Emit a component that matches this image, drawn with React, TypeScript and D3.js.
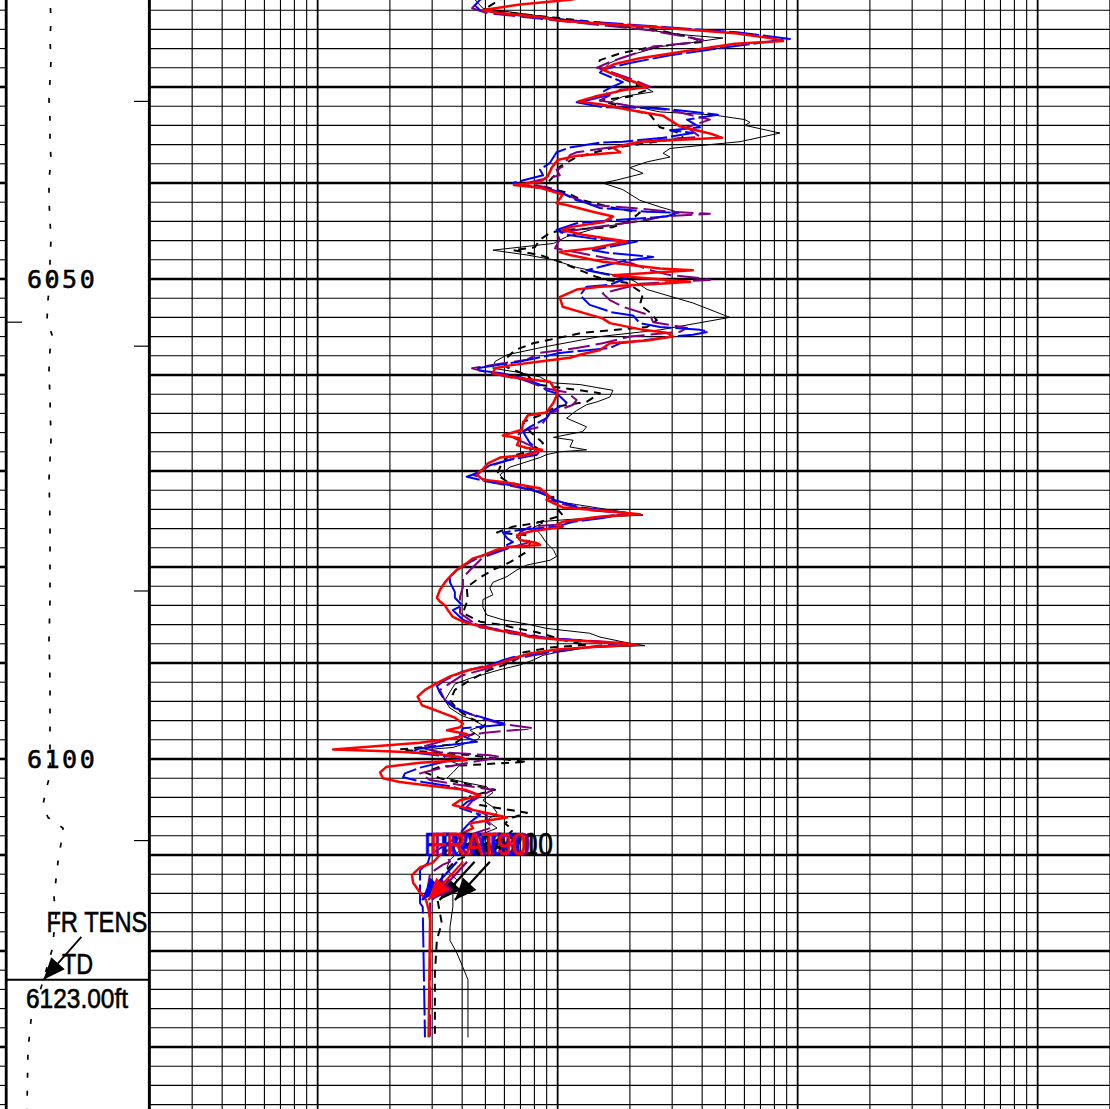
import React from 'react';
import * as d3 from 'd3';

const W = 1110;
const H = 1109;
const depthTop = 6020.94;
const depthBottom = 6136.46;
const depthLabels = [6050, 6100];
const tdDepth = 6123;
const tdText = '6123.00ft';
const rightMarkDepths = [6031.5, 6057.0, 6082.5, 6108.5];
const leftMarkDepths = [6054.5];
const resistivityDomain = [0.2, 2000];
const tensionDomain = [0, 10000];
const labelDepth = 6110.0;
const arrowStartDepth = 6110.7;
const arrowTipDepth = 6114.7;

type P = [number, number];

const TENS: P[] = [[6019.9,3050],[6020.9,3050],[6023.0,3120],[6025.1,3050],[6027.2,3120],[6029.3,3050],[6031.4,2979],[6033.4,3050],[6035.5,3050],[6037.6,3120],[6039.7,2979],[6041.8,2979],[6043.9,3050],[6045.9,3120],[6048.0,3050],[6050.1,3050],[6052.2,2908],[6054.3,2837],[6055.8,3191],[6057.4,3050],[6059.5,2979],[6062.6,3050],[6066.8,3120],[6070.9,2979],[6075.1,3050],[6079.3,3050],[6083.4,3050],[6087.6,2979],[6091.8,3050],[6095.9,3050],[6100.1,3050],[6101.7,3050],[6103.2,2766],[6104.8,2553],[6106.1,2908],[6107.2,3972],[6108.8,3830],[6110.7,3617],[6114.4,3333],[6116.3,3475],[6119.9,3191],[6123.5,2482],[6127.2,1702],[6130.3,1489],[6136.5,1418],[6137.6,1418]];

const AT90: P[] = [[6019.9,15.0],[6020.9,11.5],[6021.4,6.97],[6022.0,4.84],[6022.3,5.75],[6022.7,8.44],[6023.1,10.2],[6023.8,26.7],[6024.4,54.8],[6024.9,76.7],[6025.2,87.0],[6025.5,54.8],[6026.2,35.6],[6027.0,22.0],[6027.6,17.3],[6028.2,15.4],[6028.6,16.8],[6029.3,20.0],[6030.0,23.6],[6030.3,19.1],[6031.0,14.3],[6031.5,12.2],[6031.8,15.0],[6032.4,20.0],[6033.0,27.5],[6034.1,32.3],[6034.9,43.9],[6035.3,48.4],[6035.7,22.0],[6036.3,17.0],[6036.8,18.2],[6037.2,11.8],[6037.6,10.0],[6038.4,9.45],[6039.3,9.1],[6039.9,8.44],[6040.2,6.57],[6040.5,8.44],[6041.2,10.5],[6042.1,9.9],[6042.3,10.9],[6043.0,14.0],[6043.5,17.0],[6044.1,15.4],[6044.6,11.25],[6044.9,10.5],[6045.4,12.7],[6046.1,19.4],[6046.8,14.0],[6047.2,10.2],[6047.5,11.25],[6048.2,15.4],[6048.9,26.7],[6049.1,36.6],[6049.3,26.7],[6049.6,17.0],[6049.9,22.7],[6050.3,35.6],[6050.5,26.7],[6050.8,15.0],[6051.1,12.0],[6051.9,10.2],[6052.9,10.5],[6053.5,12.7],[6054.1,15.4],[6054.6,16.5],[6055.3,22.7],[6055.6,28.5],[6056.0,30.2],[6056.4,23.6],[6056.7,16.5],[6057.4,15.0],[6057.9,12.4],[6058.2,11.25],[6058.6,8.44],[6059.0,6.33],[6059.3,5.48],[6059.8,5.37],[6060.2,6.33],[6060.7,9.29],[6061.3,9.6],[6061.9,10.0],[6062.9,9.6],[6063.9,8.98],[6064.2,7.52],[6065.0,7.17],[6065.7,7.10],[6066.3,5.91],[6066.6,6.97],[6067.3,6.77],[6067.6,7.45],[6067.8,8.60],[6068.3,7.67],[6068.6,5.75],[6069.2,5.12],[6069.9,4.84],[6070.4,4.61],[6070.9,4.88],[6071.2,6.15],[6071.8,8.44],[6072.7,9.29],[6073.0,8.98],[6073.8,10.5],[6074.1,14.6],[6074.5,22.0],[6074.8,14.6],[6075.3,10.5],[6075.6,9.9],[6075.8,10.5],[6076.3,7.67],[6076.7,6.77],[6077.2,6.97],[6077.5,8.2],[6077.7,8.44],[6077.9,6.33],[6078.2,5.59],[6078.8,4.88],[6079.1,4.44],[6079.6,4.18],[6080.3,3.80],[6081.0,3.56],[6081.6,3.39],[6082.4,3.23],[6083.2,3.14],[6083.6,3.23],[6084.0,3.39],[6084.5,3.49],[6085.2,3.66],[6085.7,4.03],[6086.0,4.44],[6086.6,5.59],[6086.9,6.77],[6087.3,7.67],[6087.6,10.5],[6087.9,17.6],[6088.1,21.3],[6088.3,14.6],[6088.6,9.9],[6089.0,7.67],[6089.4,6.77],[6089.7,6.2],[6090.2,5.48],[6090.7,4.31],[6091.4,3.56],[6092.1,3.14],[6092.8,2.80],[6093.5,2.61],[6094.4,2.72],[6095.1,3.23],[6095.7,3.73],[6096.3,4.03],[6096.7,3.92],[6097.0,3.46],[6097.4,4.18],[6097.8,3.80],[6098.3,2.67],[6099.0,1.16],[6099.2,1.94],[6099.4,2.94],[6099.8,3.92],[6100.1,4.18],[6100.4,2.67],[6100.8,1.94],[6101.4,1.82],[6102.0,1.87],[6102.4,2.20],[6102.8,2.94],[6103.2,4.11],[6103.8,4.75],[6104.3,3.92],[6104.8,3.66],[6105.3,4.44],[6105.8,5.48],[6106.1,6.15],[6106.7,4.31],[6107.2,4.44],[6107.7,4.03],[6108.4,3.80],[6109.2,3.66],[6110.0,3.23],[6110.8,3.02],[6111.3,2.67],[6112.1,2.47],[6112.9,2.50],[6113.9,2.67],[6114.7,2.83],[6115.7,2.90],[6116.8,2.94],[6129.0,2.90]];

const AT60: P[] = [[6019.9,6.97],[6020.9,4.75],[6021.5,4.52],[6022.0,4.75],[6022.8,8.2],[6023.8,29.4],[6024.3,55.8],[6025.0,92.9],[6025.4,69.7],[6025.8,52.2],[6026.7,29.4],[6027.5,20.0],[6028.2,15.4],[6028.5,15.0],[6029.5,18.7],[6030.1,16.5],[6030.5,15.4],[6030.8,16.5],[6031.4,13.2],[6031.6,12.0],[6032.1,15.4],[6032.2,26.0],[6032.7,40.3],[6032.9,46.5],[6033.4,34.6],[6034.2,39.2],[6034.5,29.4],[6034.8,36.6],[6035.3,27.5],[6035.7,18.7],[6035.8,15.0],[6036.3,11.25],[6036.8,9.9],[6037.9,9.29],[6038.6,8.44],[6039.2,8.69],[6040.0,6.51],[6040.9,10.2],[6041.8,12.0],[6042.1,13.2],[6042.6,15.0],[6042.8,19.4],[6043.0,23.6],[6043.1,31.4],[6043.5,28.5],[6043.9,16.5],[6044.2,12.0],[6044.9,9.9],[6045.4,10.9],[6045.9,15.0],[6046.1,21.4],[6047.0,14.0],[6047.3,16.5],[6047.7,25.0],[6048.2,18.2],[6049.1,13.2],[6049.6,16.5],[6049.9,19.4],[6050.6,16.5],[6050.8,13.2],[6051.7,12.4],[6052.7,13.6],[6053.5,17.0],[6053.8,20.6],[6054.6,22.0],[6055.0,26.7],[6055.3,39.2],[6055.5,42.4],[6055.8,36.6],[6056.0,30.2],[6056.7,18.2],[6057.2,16.5],[6057.7,10.2],[6058.1,8.69],[6058.6,6.97],[6059.3,4.61],[6059.5,4.61],[6059.8,5.75],[6060.3,7.17],[6061.0,8.44],[6061.6,8.98],[6061.9,9.9],[6062.9,10.9],[6063.3,10.2],[6063.9,9.29],[6064.5,8.98],[6065.4,7.67],[6065.9,7.17],[6066.6,7.45],[6067.1,7.67],[6067.8,8.44],[6068.3,8.2],[6068.9,6.15],[6069.4,5.22],[6070.1,4.75],[6070.6,4.18],[6071.1,5.07],[6071.5,6.51],[6072.2,8.44],[6072.7,9.29],[6073.0,9.6],[6073.8,12.4],[6074.4,20.0],[6074.9,15.4],[6075.3,11.6],[6075.8,9.9],[6076.1,7.17],[6076.4,5.91],[6077.0,6.15],[6077.4,6.51],[6077.7,6.15],[6078.0,6.33],[6078.8,4.88],[6079.5,4.31],[6080.3,3.80],[6081.0,3.56],[6081.6,3.56],[6082.6,3.73],[6083.2,3.73],[6084.0,4.0],[6084.5,3.66],[6085.5,4.03],[6085.8,4.31],[6086.9,6.33],[6087.4,8.98],[6087.9,17.0],[6088.1,20.0],[6088.4,12.8],[6089.0,8.44],[6089.4,6.51],[6089.7,5.91],[6090.2,5.22],[6090.9,4.0],[6091.8,3.39],[6092.4,3.14],[6093.1,3.23],[6093.9,3.39],[6094.7,3.73],[6095.3,4.31],[6095.9,5.22],[6096.4,6.15],[6096.8,4.03],[6097.5,3.92],[6098.2,4.61],[6098.9,2.67],[6099.3,2.42],[6099.9,4.03],[6100.4,3.23],[6100.9,2.67],[6101.5,2.31],[6101.9,2.27],[6102.4,2.74],[6102.9,3.66],[6103.8,4.75],[6104.5,4.18],[6105.1,3.92],[6105.8,4.75],[6106.6,4.31],[6107.4,4.03],[6108.4,3.66],[6110.0,2.94],[6110.8,2.88],[6111.6,2.67],[6112.9,2.67],[6115.0,2.67],[6115.4,2.74],[6129.0,2.80]];

const AT30: P[] = [[6019.9,5.75],[6020.9,4.75],[6021.8,4.40],[6022.3,5.07],[6023.0,9.29],[6024.1,24.3],[6025.1,40.3],[6025.4,35.6],[6025.8,25.0],[6026.7,20.0],[6027.4,16.5],[6028.0,14.6],[6028.4,16.5],[6029.3,21.0],[6030.0,24.3],[6030.3,18.2],[6031.4,15.0],[6032.1,21.4],[6032.4,29.4],[6033.4,43.1],[6034.2,34.6],[6035.2,39.2],[6035.5,26.7],[6036.3,16.5],[6036.8,12.0],[6037.1,11.25],[6038.3,10.5],[6038.6,9.9],[6039.2,10.2],[6040.0,7.45],[6040.4,8.69],[6041.0,10.2],[6041.8,12.4],[6042.3,14.0],[6042.6,20.6],[6043.0,29.4],[6043.2,43.1],[6043.5,27.5],[6044.1,20.0],[6044.6,14.3],[6045.2,9.9],[6045.9,10.2],[6046.8,9.75],[6047.3,12.4],[6048.3,20.0],[6049.1,24.3],[6049.6,29.4],[6049.9,39.2],[6050.1,43.1],[6050.5,22.0],[6051.5,15.4],[6052.2,16.5],[6052.9,18.7],[6053.8,24.3],[6054.5,25.0],[6055.1,34.6],[6055.5,32.3],[6056.0,20.0],[6056.7,15.4],[6057.2,12.0],[6057.7,8.44],[6058.4,7.45],[6059.3,4.40],[6059.8,5.22],[6060.5,7.17],[6061.4,8.98],[6061.8,10.9],[6062.6,12.0],[6063.1,11.6],[6064.0,9.29],[6065.4,8.44],[6065.7,7.45],[6066.5,6.51],[6067.0,7.17],[6067.8,8.44],[6068.9,6.15],[6069.6,5.07],[6070.4,4.44],[6071.2,5.37],[6072.0,7.9],[6072.7,9.29],[6073.3,9.9],[6074.1,13.6],[6074.4,20.0],[6074.9,13.6],[6075.6,9.9],[6075.8,7.67],[6076.4,6.97],[6076.9,6.77],[6077.4,7.67],[6078.0,6.33],[6079.0,4.88],[6080.0,4.44],[6081.1,4.03],[6082.1,4.03],[6083.1,3.92],[6084.8,3.92],[6085.3,4.18],[6086.3,4.75],[6086.6,6.15],[6087.4,8.98],[6087.9,18.7],[6088.4,12.8],[6089.2,7.9],[6089.7,6.33],[6090.5,5.22],[6091.3,4.0],[6092.8,3.23],[6093.9,3.39],[6094.9,3.92],[6095.7,4.75],[6096.3,5.75],[6096.8,7.9],[6097.3,4.88],[6097.7,3.80],[6098.8,2.67],[6099.3,3.23],[6099.6,5.22],[6099.8,5.75],[6100.8,3.46],[6101.5,2.67],[6102.2,2.94],[6102.7,3.92],[6103.2,5.37],[6104.3,4.44],[6105.0,4.18],[6105.8,5.07],[6106.6,5.07],[6107.1,5.37],[6107.9,4.31],[6109.0,3.73],[6110.2,3.46],[6110.7,3.56],[6111.0,3.33],[6111.9,2.94],[6113.3,2.88],[6114.7,2.94],[6129.0,2.94]];

const AT20: P[] = [[6019.9,6.97],[6020.9,5.75],[6022.0,4.88],[6022.8,9.9],[6023.9,24.3],[6024.8,35.6],[6025.3,40.3],[6025.8,25.0],[6026.5,18.2],[6027.2,15.0],[6027.9,14.6],[6028.5,16.5],[6029.6,20.6],[6030.3,23.6],[6031.0,20.0],[6031.4,15.0],[6032.1,18.7],[6032.9,24.3],[6034.2,26.7],[6034.8,32.3],[6035.3,33.3],[6036.4,16.5],[6037.3,12.0],[6038.3,10.2],[6039.0,9.9],[6039.7,9.29],[6040.4,8.85],[6041.0,10.9],[6041.8,12.7],[6042.5,16.5],[6043.1,22.0],[6043.9,20.0],[6044.6,17.0],[6044.9,10.5],[6045.2,9.29],[6045.9,8.44],[6046.7,8.04],[6047.0,6.51],[6047.5,8.44],[6048.2,10.2],[6049.1,12.4],[6049.8,14.6],[6050.1,16.0],[6050.4,19.4],[6051.5,22.7],[6052.7,22.0],[6053.5,24.3],[6054.3,25.9],[6055.0,23.6],[6055.6,12.7],[6056.7,7.9],[6057.4,6.64],[6057.9,6.33],[6058.4,6.03],[6059.2,6.15],[6060.0,7.45],[6061.0,8.2],[6061.6,12.4],[6061.9,15.0],[6062.8,13.2],[6063.3,9.9],[6064.2,8.44],[6064.9,7.17],[6065.9,7.67],[6066.8,8.44],[6067.1,8.69],[6068.0,7.45],[6068.6,6.15],[6069.6,5.75],[6070.4,5.59],[6071.1,6.15],[6071.7,7.45],[6072.2,8.44],[6072.7,9.6],[6073.5,9.6],[6074.6,10.5],[6075.4,8.2],[6075.8,6.51],[6076.4,5.59],[6076.7,7.45],[6077.5,7.67],[6078.4,7.45],[6079.5,6.33],[6080.3,5.37],[6081.1,4.75],[6082.1,4.18],[6083.4,4.22],[6084.8,4.03],[6085.7,4.75],[6086.0,5.75],[6086.4,6.77],[6086.8,8.2],[6087.8,11.25],[6088.1,13.2],[6088.4,9.29],[6088.9,7.17],[6089.4,6.97],[6090.0,6.33],[6090.7,5.22],[6091.8,4.31],[6092.8,3.73],[6093.9,3.56],[6094.9,3.84],[6095.7,4.31],[6096.5,4.98],[6097.3,4.52],[6098.0,3.92],[6098.5,3.66],[6099.0,2.20],[6099.2,2.67],[6099.6,4.31],[6100.1,6.33],[6100.3,7.45],[6100.8,3.23],[6101.4,2.80],[6102.0,3.23],[6102.7,4.31],[6103.2,5.48],[6103.9,4.31],[6104.8,4.75],[6105.6,7.45],[6106.1,6.51],[6106.7,6.03],[6107.4,6.51],[6108.2,6.03],[6109.0,4.75],[6110.0,4.31],[6110.5,3.80],[6111.9,3.33],[6113.3,3.23],[6114.7,3.16],[6117.1,3.29],[6118.8,3.14],[6122.3,3.08],[6129.0,3.08]];

const AT10: P[] = [[6019.9,5.75],[6020.9,4.52],[6021.8,4.88],[6022.8,9.6],[6024.6,34.6],[6024.9,48.8],[6025.4,35.6],[6025.8,26.7],[6026.9,18.7],[6027.5,16.5],[6028.2,15.4],[6029.0,18.2],[6029.6,21.4],[6030.5,25.0],[6031.0,18.7],[6031.6,16.5],[6032.1,21.4],[6032.6,26.7],[6032.9,44.2],[6033.4,60.3],[6033.7,63.3],[6034.0,60.3],[6034.8,84.4],[6035.7,57.5],[6036.4,29.4],[6036.9,27.5],[6037.3,29.4],[6037.8,23.6],[6038.4,20.0],[6039.0,22.7],[6039.7,17.6],[6040.0,15.4],[6040.7,18.7],[6041.8,22.0],[6042.5,26.7],[6043.1,32.3],[6043.9,23.6],[6044.6,15.0],[6045.6,10.9],[6046.3,9.6],[6047.0,5.37],[6047.5,7.45],[6048.0,9.6],[6048.8,12.0],[6049.3,15.0],[6049.8,19.4],[6050.4,21.4],[6051.1,23.6],[6052.5,36.6],[6054.0,52.2],[6055.3,26.7],[6056.0,15.0],[6057.1,8.69],[6057.9,6.15],[6058.6,5.48],[6059.3,5.37],[6059.7,6.77],[6060.2,8.44],[6060.8,9.29],[6061.0,12.4],[6061.6,17.0],[6062.3,16.5],[6062.8,14.6],[6063.1,13.2],[6063.7,12.0],[6064.5,10.9],[6065.4,13.2],[6065.9,12.7],[6066.5,9.6],[6066.8,11.6],[6067.5,11.25],[6067.8,13.2],[6068.0,10.2],[6068.3,8.98],[6068.6,8.44],[6069.6,6.33],[6070.4,5.75],[6071.3,6.15],[6072.0,7.67],[6072.3,8.44],[6072.7,9.6],[6073.0,8.98],[6073.5,12.0],[6074.1,17.0],[6074.6,22.7],[6074.8,15.4],[6075.1,10.5],[6075.3,8.2],[6075.4,8.69],[6075.9,7.9],[6076.5,8.44],[6077.5,8.98],[6078.2,9.6],[6078.9,9.9],[6079.3,9.29],[6079.8,7.45],[6080.3,6.77],[6081.0,6.15],[6081.6,5.37],[6082.2,5.22],[6082.9,5.37],[6083.4,4.88],[6084.2,4.88],[6085.0,5.07],[6085.5,5.91],[6086.0,7.67],[6086.4,8.98],[6086.9,13.6],[6087.3,15.0],[6087.8,18.7],[6088.2,23.1],[6088.4,13.2],[6088.9,9.9],[6089.2,8.69],[6089.7,7.9],[6090.2,6.97],[6090.7,5.75],[6091.6,4.31],[6092.2,3.73],[6093.0,3.56],[6093.9,3.39],[6094.7,3.56],[6095.5,4.0],[6095.9,4.44],[6096.5,4.88],[6097.0,4.31],[6097.7,4.75],[6098.0,4.61],[6098.8,3.66],[6099.0,2.94],[6099.3,3.23],[6100.1,3.46],[6100.6,3.92],[6101.4,3.66],[6102.0,3.46],[6102.4,4.03],[6102.9,5.07],[6103.5,5.37],[6104.3,4.88],[6105.0,5.37],[6105.6,5.59],[6106.4,5.07],[6107.2,5.59],[6107.9,4.75],[6109.0,4.11],[6110.5,3.56],[6111.3,3.46],[6111.9,3.56],[6112.6,3.80],[6114.0,3.66],[6115.4,3.66],[6117.5,3.56],[6118.9,3.56],[6120.2,3.80],[6121.7,4.03],[6123.0,4.23],[6129.0,4.23]];

const curveNames = ['FRAT10', 'FRAT20', 'FRAT30', 'FRAT60', 'FRAT90'];
const curveData = [AT10, AT20, AT30, AT60, AT90];
const curveColors = ['#000000', '#000000', '#800080', '#0000ff', '#ff0000'];
const curveWidths = [1, 2, 2, 2, 2.5];
const curveDashes = ['', '8,6', '22,6', '30,4', ''];

function valueAt(data: P[], depth: number): number {
  for (let i = 0; i < data.length - 1; i++) {
    const a = data[i], b = data[i + 1];
    if (depth >= a[0] && depth <= b[0]) {
      const t = (depth - a[0]) / (b[0] - a[0] || 1);
      return a[1] + (b[1] - a[1]) * t;
    }
  }
  return data[data.length - 1][1];
}

function arrowHead(x1: number, y1: number, x2: number, y2: number, len: number, half: number): string {
  const dx = x2 - x1, dy = y2 - y1;
  const l = Math.hypot(dx, dy) || 1;
  const ux = dx / l, uy = dy / l;
  const bx = x2 - ux * len, by = y2 - uy * len;
  const px = -uy, py = ux;
  return `M${x2},${y2}L${bx + px * half},${by + py * half}L${bx - px * half},${by - py * half}Z`;
}

export default function App() {
  const y = d3.scaleLinear().domain([depthTop, depthBottom]).range([0, H]);
  const x = d3.scaleLog().domain(resistivityDomain).range([149.9, 1109.9]);
  const xt = d3.scaleLinear().domain(tensionDomain).range([7, 148]);

  const line = d3.line<P>().x(d => x(d[1])).y(d => y(d[0]));
  const tensLine = d3.line<P>().x(d => xt(d[1])).y(d => y(d[0]));

  const minorDepths = d3.range(Math.ceil(depthTop / 2) * 2, depthBottom, 2);

  const gridVals: number[] = [];
  [0.1, 1, 10, 100, 1000].forEach(dec => {
    for (let k = 1; k <= 9; k++) {
      const v = dec * k;
      if (v >= 0.2 && v <= 2000) gridVals.push(v);
    }
  });
  const isDecade = (v: number) => Math.abs(Math.log10(v) - Math.round(Math.log10(v))) < 1e-9;

  const sans = "'Liberation Sans', Arial, sans-serif";

  const tdY = y(tdDepth);
  const tipTensX = xt(valueAt(TENS, tdDepth));

  return (
    <svg width={W} height={H} style={{ position: 'absolute', left: 0, top: 0, display: 'block', background: '#fff' }}>
      <defs>
        <clipPath id="trackClip">
          <rect x={149.9} y={0} width={W - 149.9} height={H} />
        </clipPath>
        <clipPath id="depthClip">
          <rect x={7} y={0} width={141} height={H} />
        </clipPath>
      </defs>
      <rect x={0} y={0} width={W} height={H} fill="#fff" />

      {/* horizontal grid */}
      {minorDepths.map(d => {
        const major = Math.round(d) % 10 === 0;
        return (
          <g key={'h' + d}>
            <line x1={149} x2={W} y1={y(d)} y2={y(d)} stroke="#000" strokeWidth={major ? 2.6 : 1.1} />
            <line x1={0} x2={5} y1={y(d)} y2={y(d)} stroke="#000" strokeWidth={major ? 2.6 : 1.1} />
          </g>
        );
      })}

      {/* vertical log grid */}
      {gridVals.map(v => (
        <line key={'v' + v} x1={x(v)} x2={x(v)} y1={0} y2={H} stroke="#000" strokeWidth={isDecade(v) ? 1.8 : 1.1} />
      ))}

      {/* track borders */}
      <line x1={6.2} x2={6.2} y1={0} y2={H} stroke="#000" strokeWidth={2.8} />
      <line x1={149.3} x2={149.3} y1={0} y2={H} stroke="#000" strokeWidth={2.8} />

      {rightMarkDepths.map(d => (
        <line key={'rm' + d} x1={134} x2={148} y1={y(d)} y2={y(d)} stroke="#000" strokeWidth={1.2} />
      ))}
      {leftMarkDepths.map(d => (
        <line key={'lm' + d} x1={7} x2={22} y1={y(d)} y2={y(d)} stroke="#000" strokeWidth={1.2} />
      ))}

      {/* TD line */}
      <line x1={7} x2={148} y1={tdY} y2={tdY} stroke="#000" strokeWidth={2} />

      {/* tension curve */}
      <path d={tensLine(TENS) || ''} fill="none" stroke="#000" strokeWidth={1.7} strokeDasharray="5,13" clipPath="url(#depthClip)" />

      {/* depth labels */}
      {depthLabels.map(d => (
        <text key={'dl' + d} x={27} y={y(d) + 9} fontFamily="'DejaVu Sans Mono', monospace" fontSize={25} letterSpacing={2.5}
          fill="#000" stroke="#000" strokeWidth={0.6}>{d}</text>
      ))}

      {/* curves */}
      <g clipPath="url(#trackClip)">
        {curveData.map((data, i) => (
          <path key={curveNames[i]} d={line(data) || ''} fill="none" stroke={curveColors[i]} strokeWidth={curveWidths[i]}
            strokeDasharray={curveDashes[i] || undefined} strokeLinejoin="round" />
        ))}
      </g>

      {/* curve labels with arrows */}
      {curveData.map((data, i) => {
        const cx = x(valueAt(data, arrowTipDepth));
        const tipX = cx + 2;
        const tipY = y(arrowTipDepth);
        const sx = cx + 37;
        const sy = y(arrowStartDepth);
        return (
          <g key={'lab' + curveNames[i]}>
            <text x={cx + 4} y={y(labelDepth)} fontFamily={sans} fontSize={31} textLength={96}
              lengthAdjust="spacingAndGlyphs" fill={curveColors[i]} stroke={curveColors[i]} strokeWidth={0.7}>{curveNames[i]}</text>
            <line x1={sx} y1={sy} x2={tipX} y2={tipY} stroke={curveColors[i]} strokeWidth={2.2} />
            <path d={arrowHead(sx, sy, tipX, tipY, 22, 9)} fill={curveColors[i]} />
          </g>
        );
      })}

      {/* TD annotation */}
      <text x={tipTensX + 3} y={tdY - 48} fontFamily={sans} fontSize={30} textLength={101} lengthAdjust="spacingAndGlyphs"
        fill="#000" stroke="#000" strokeWidth={0.6}>FR TENS</text>
      <line x1={tipTensX + 38} y1={tdY - 43} x2={tipTensX} y2={tdY} stroke="#000" strokeWidth={1.8} />
      <path d={arrowHead(tipTensX + 38, tdY - 43, tipTensX, tdY, 22, 9)} fill="#000" />
      <text x={62} y={tdY - 6} fontFamily={sans} fontSize={30} textLength={31} lengthAdjust="spacingAndGlyphs"
        fill="#000" stroke="#000" strokeWidth={0.6}>TD</text>
      <text x={26} y={tdY + 28} fontFamily={sans} fontSize={27} textLength={102} lengthAdjust="spacingAndGlyphs"
        fill="#000" stroke="#000" strokeWidth={0.6}>{tdText}</text>
    </svg>
  );
}
